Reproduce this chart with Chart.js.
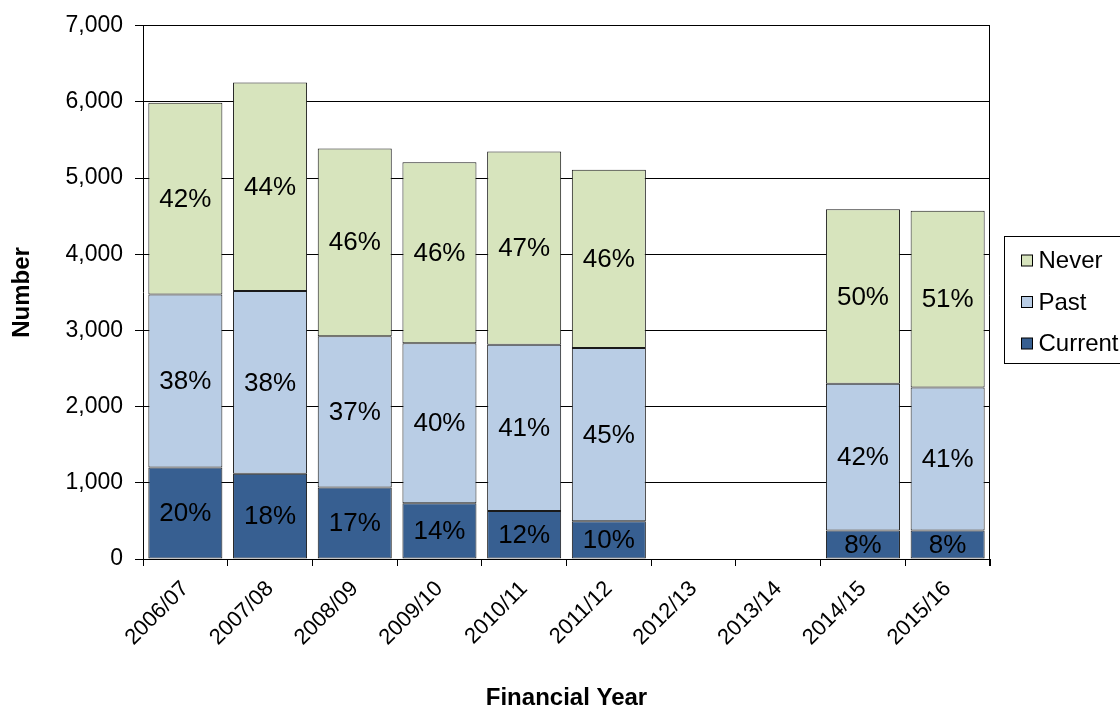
<!DOCTYPE html>
<html>
<head>
<meta charset="utf-8">
<script src="https://cdn.jsdelivr.net/npm/chart.js@4/dist/chart.umd.min.js"></script>
<style>
html,body{margin:0;padding:0;background:#fff;}
#wrap{width:1120px;height:711px;position:relative;}
</style>
</head>
<body>
<div id="wrap"><canvas id="c"></canvas></div>
<script>
// ---- Data ----
const years = ['2006/07','2007/08','2008/09','2009/10','2010/11','2011/12','2012/13','2013/14','2014/15','2015/16'];
const current = [1200, 1120, 940, 733, 630, 495, null, null, 375, 375];
const past    = [2274, 2397, 1985, 2099, 2184, 2275, null, null, 1925, 1875];
const never   = [2516, 2738, 2465, 2378, 2536, 2340, null, null, 2290, 2322];
const currentPct = ['20%','18%','17%','14%','12%','10%',null,null,'8%','8%'];
const pastPct    = ['38%','38%','37%','40%','41%','45%',null,null,'42%','41%'];
const neverPct   = ['42%','44%','46%','46%','47%','46%',null,null,'50%','51%'];
const yMin = 0, yMax = 7000, yStep = 1000;

const FONT = "'Liberation Sans', Arial, sans-serif";
const pctLabels = [currentPct, pastPct, neverPct];

const segLabelPlugin = {
  id: 'segLabels',
  afterDatasetsDraw(chart) {
    const ctx = chart.ctx;
    ctx.save();
    ctx.font = '26px ' + FONT;
    ctx.fillStyle = '#000';
    ctx.textAlign = 'center';
    ctx.textBaseline = 'middle';
    chart.data.datasets.forEach((ds, i) => {
      const meta = chart.getDatasetMeta(i);
      meta.data.forEach((el, j) => {
        const t = pctLabels[i][j];
        if (!t || ds.data[j] == null) return;
        ctx.fillText(t, el.x, (el.y + el.base) / 2 + 1);
      });
    });
    ctx.restore();
  }
};

const framePlugin = {
  id: 'frame',
  beforeDatasetsDraw(chart) {
    const a = chart.chartArea, ctx = chart.ctx;
    ctx.save();
    ctx.strokeStyle = '#000';
    ctx.lineWidth = 1;
    ctx.beginPath();
    ctx.moveTo(Math.round(a.right) - 0.5, a.top);
    ctx.lineTo(Math.round(a.right) - 0.5, a.bottom + 7);
    ctx.stroke();
    ctx.restore();
  }
};

const legendPlugin = {
  id: 'boxLegend',
  afterDraw(chart) {
    const a = chart.chartArea, ctx = chart.ctx;
    const x = a.right + 14.5, y = 236.5, w = 140, h = 127;
    ctx.save();
    ctx.fillStyle = '#fff';
    ctx.fillRect(x, y, w, h);
    ctx.strokeStyle = '#000';
    ctx.lineWidth = 1;
    ctx.strokeRect(x, y, w, h);
    const items = chart.data.datasets.slice().reverse();
    ctx.font = '24px ' + FONT;
    ctx.textBaseline = 'middle';
    ctx.textAlign = 'left';
    items.forEach((ds, k) => {
      const cy = y + 24 + k * 41.5;
      ctx.fillStyle = ds.backgroundColor;
      ctx.fillRect(x + 17, cy - 5.5, 11, 11);
      ctx.strokeStyle = '#000';
      ctx.strokeRect(x + 17, cy - 5.5, 11, 11);
      ctx.fillStyle = '#000';
      ctx.fillText(ds.label, x + 34, cy + 1);
    });
    ctx.restore();
  }
};

const barCommon = {
  borderColor: '#1a1a1a',
  borderWidth: 1,
  borderSkipped: false,
  categoryPercentage: 1.0,
  barPercentage: 0.874
};

new Chart(document.getElementById('c'), {
  type: 'bar',
  data: {
    labels: years,
    datasets: [
      Object.assign({ label: 'Current', data: current, backgroundColor: '#375F91' }, barCommon),
      Object.assign({ label: 'Past', data: past, backgroundColor: '#B9CDE5' }, barCommon),
      Object.assign({ label: 'Never', data: never, backgroundColor: '#D7E4BD' }, barCommon)
    ]
  },
  options: {
    responsive: true,
    maintainAspectRatio: false,
    animation: false,
    layout: { padding: { left: 0, top: 23, right: 130, bottom: 0 } },
    plugins: {
      legend: { display: false },
      tooltip: { enabled: false }
    },
    scales: {
      x: {
        stacked: true,
        offset: true,
        grid: { display: true, drawOnChartArea: false, drawTicks: true, tickLength: 7, color: '#000', offset: true },
        border: { display: true, color: '#000', width: 1 },
        ticks: { color: '#000', font: { family: FONT, size: 22 }, minRotation: 45, maxRotation: 45, padding: 10, autoSkip: false },
        title: { display: true, text: 'Financial Year', color: '#000', font: { family: FONT, size: 24, weight: 'bold' }, padding: { top: 0, bottom: -2 } },
        afterFit(scale) { scale.height = 711 - 559; }
      },
      y: {
        stacked: true,
        min: yMin, max: yMax,
        grid: { color: '#000', lineWidth: 1, drawTicks: true, tickLength: 8 },
        border: { display: true, color: '#000', width: 1 },
        ticks: {
          stepSize: yStep, color: '#000', padding: 12,
          font: { family: FONT, size: 23 },
          callback: v => v.toLocaleString('en-US')
        },
        title: { display: true, text: 'Number', color: '#000', font: { family: FONT, size: 24, weight: 'bold' }, padding: { top: 8, bottom: 0 } },
        afterFit(scale) { scale.width = 143; }
      }
    }
  },
  plugins: [framePlugin, segLabelPlugin, legendPlugin]
});
</script>
</body>
</html>
